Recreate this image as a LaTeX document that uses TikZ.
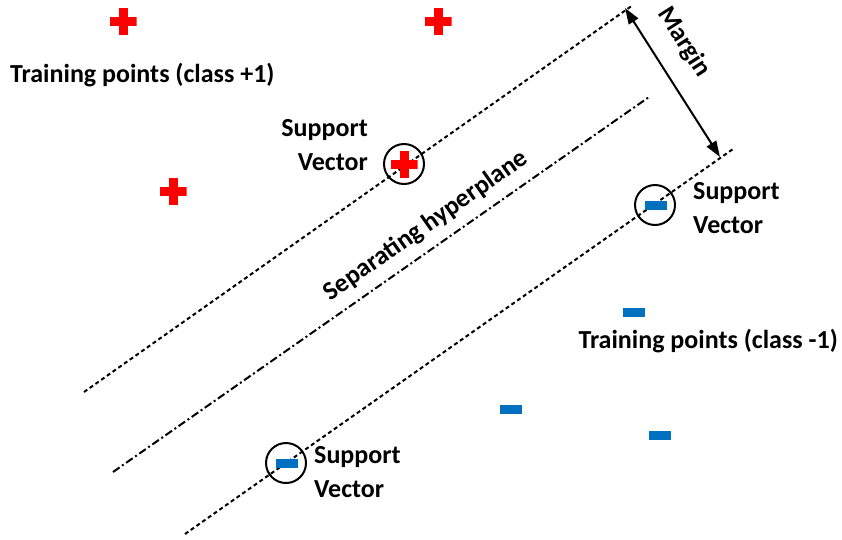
\documentclass[tikz,border=0pt]{standalone}
\usepackage{fontspec}
\setmainfont{Carlito}
\usetikzlibrary{arrows.meta}
\definecolor{posred}{RGB}{255,0,0}
\definecolor{negblue}{RGB}{0,112,192}
\begin{document}
\begin{tikzpicture}[x=1pt,y=-1pt,
  lbl/.style={font=\fontsize{26}{34}\selectfont\bfseries, inner sep=0pt},
  plusmark/.style={minimum size=27pt, inner sep=0pt, path picture={
    \fill[posred] ([xshift=-13.5pt,yshift=-4.5pt]path picture bounding box.center)
      rectangle ([xshift=13.5pt,yshift=4.5pt]path picture bounding box.center);
    \fill[posred] ([xshift=-4.5pt,yshift=-13.5pt]path picture bounding box.center)
      rectangle ([xshift=4.5pt,yshift=13.5pt]path picture bounding box.center);}},
  minusmark/.style={fill=negblue, minimum width=22pt, minimum height=9pt, inner sep=0pt},
  svring/.style={circle, draw, line width=2pt, minimum size=40pt, inner sep=0pt},
  marginline/.style={line width=2pt, dash pattern=on 4pt off 3pt},
  hyperline/.style={line width=2pt, dash pattern=on 8pt off 3pt on 2pt off 3pt},
  measure/.style={line width=2pt, {Triangle[length=16pt,width=11pt]}-{Triangle[length=16pt,width=11pt]}}
]
\useasboundingbox[fill=white] (0,0) rectangle (842,539);

% margin boundaries and separating hyperplane
\coordinate (upA) at (84,392);
\coordinate (upB) at (633,5);
\coordinate (midA) at (113,472);
\coordinate (midB) at (649,97);
\coordinate (loA) at (185,534);
\coordinate (loB) at (733,149);
\draw[marginline] (upA) -- (upB);
\draw[hyperline] (midA) -- (midB);
\draw[marginline] (loA) -- (loB);

% margin width
\coordinate (mtop) at (625,8);
\coordinate (mbot) at (720,157);
\draw[measure] (mtop) -- (mbot);
\node[lbl, rotate=-57.5] (mlabel) at (684,42) {Margin};

% class +1 points
\node[plusmark] (p1) at (123,21) {};
\node[plusmark] (p2) at (438,21) {};
\node[plusmark] (p3) at (173,191) {};
\node[plusmark] (p4) at (404,164) {};

% class -1 points
\node[minusmark] (m1) at (634,312) {};
\node[minusmark] (m2) at (511,409) {};
\node[minusmark] (m3) at (660,435) {};
\node[minusmark] (m4) at (656,205) {};
\node[minusmark] (m5) at (287,463) {};

% support vectors
\node[svring] (sv1) at (404,164) {};
\node[svring] (sv2) at (655,205) {};
\node[svring] (sv3) at (286,463) {};

% labels
\node[lbl, anchor=base west] (tpos) at (10,82) {Training points (class +1)};
\node[lbl, anchor=base east] (tneg) at (838,348) {Training points (class -1)};
\node[lbl, align=right, anchor=north east] (sv1lbl) at (368,119) {Support\\Vector};
\node[lbl, align=left, anchor=north west] (sv2lbl) at (693,182) {Support\\Vector};
\node[lbl, align=left, anchor=north west] (sv3lbl) at (314,446) {Support\\Vector};
\node[lbl, rotate=35.1] (hlabel) at (426,226) {Separating hyperplane};
\end{tikzpicture}
\end{document}
